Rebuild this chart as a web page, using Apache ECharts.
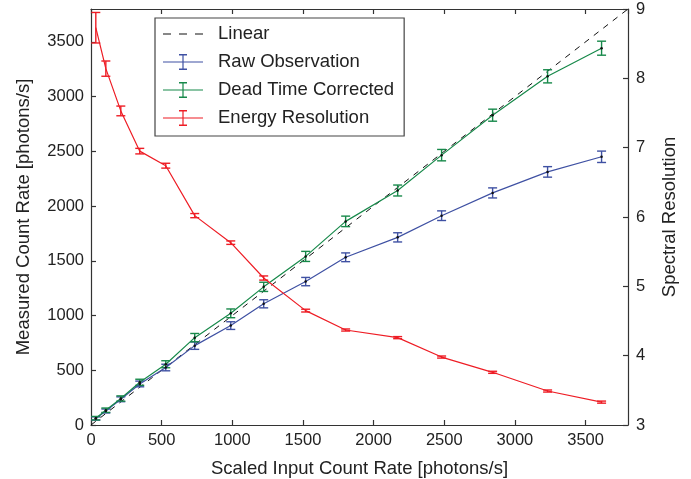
<!DOCTYPE html>
<html>
<head>
<meta charset="utf-8">
<script src="https://cdn.jsdelivr.net/npm/echarts@6/dist/echarts.min.js"></script>
<style>
html,body{margin:0;padding:0;background:#fff;}
#chart{width:691px;height:479px;}
</style>
</head>
<body>
<div id="chart"></div>
<script>
// ---- data ----
var inputRate = [34, 105, 211, 345, 529, 734, 989, 1222, 1519, 1802, 2170, 2481, 2842, 3231, 3613];
var rawObs    = [60, 128, 235, 375, 525, 725, 908, 1107, 1310, 1532, 1714, 1912, 2120, 2312, 2450];
var rawErr    = [15, 18, 22, 26, 30, 34, 35, 37, 38, 40, 42, 44, 46, 48, 52];
var deadCorr  = [62, 135, 242, 390, 555, 798, 1020, 1262, 1540, 1860, 2142, 2465, 2830, 3185, 3442];
var deadErr   = [16, 20, 24, 28, 32, 38, 40, 42, 46, 48, 50, 52, 55, 60, 64];
var energyRes = [8.73, 8.14, 7.53, 6.95, 6.74, 6.02, 5.63, 5.12, 4.65, 4.37, 4.26, 3.98, 3.76, 3.49, 3.33];
var energyErr = [0.22, 0.11, 0.07, 0.04, 0.035, 0.03, 0.025, 0.03, 0.02, 0.015, 0.015, 0.015, 0.015, 0.015, 0.015];
var linearLine = [[0, 0], [3800, 3800]];
var xTicks = {min: 0, max: 3800, interval: 500};
var yTicks = {min: 0, max: 3800, interval: 500};
var y2Ticks = {min: 3, max: 9, interval: 1};

var BLUE = '#3f51a3', GREEN = '#17894a', RED = '#ee1d25';
var FONT = 'Liberation Sans';

function pts(xs, ys) { return xs.map(function (x, i) { return [x, ys[i]]; }); }
function errData(xs, ys, es) { return xs.map(function (x, i) { return [x, ys[i] - es[i], ys[i] + es[i]]; }); }

function errRender(color) {
  return function (params, api) {
    var lo = api.coord([api.value(0), api.value(1)]);
    var hi = api.coord([api.value(0), api.value(2)]);
    var w = 4.5;
    var st = {stroke: color, lineWidth: 1.4};
    return {
      type: 'group',
      children: [
        {type: 'line', shape: {x1: lo[0], y1: lo[1], x2: hi[0], y2: hi[1]}, style: st},
        {type: 'line', shape: {x1: lo[0] - w, y1: lo[1], x2: lo[0] + w, y2: lo[1]}, style: st},
        {type: 'line', shape: {x1: hi[0] - w, y1: hi[1], x2: hi[0] + w, y2: hi[1]}, style: st}
      ]
    };
  };
}

var errIcon = 'path://M0,7.5L40,7.5L40,8.5L0,8.5Z M19.4,1L20.6,1L20.6,15L19.4,15Z M16,0L24,0L24,1.4L16,1.4Z M16,14.6L24,14.6L24,16L16,16Z';
var dashIcon = 'path://M0,7.5L8,7.5L8,8.5L0,8.5Z M16,7.5L24,7.5L24,8.5L16,8.5Z M32,7.5L40,7.5L40,8.5L32,8.5Z';

var axisLineStyle = {color: '#333', width: 1.2};
var labelStyle = {color: '#222', fontSize: 16.5, fontFamily: FONT};
var nameStyle = {color: '#222', fontSize: 18.5, fontFamily: FONT};
function plain(v) { return String(v); }

var chart = echarts.init(document.getElementById('chart'));
chart.setOption({
  backgroundColor: '#fff',
  animation: false,
  grid: {left: 91, right: 63, top: 9, bottom: 54, containLabel: false, outerBoundsMode: 'none'},
  legend: {
    left: 155, top: 18,
    orient: 'vertical',
    itemWidth: 40, itemHeight: 16, itemGap: 8,
    padding: [6, 10, 8, 8],
    borderColor: '#444', borderWidth: 1.2,
    backgroundColor: '#fff',
    textStyle: {color: '#222', fontSize: 18.5, lineHeight: 20, fontFamily: FONT, padding: [0, 0, 0, 10]},
    selectedMode: false,
    data: [
      {name: 'Linear', icon: dashIcon, itemStyle: {color: '#111'}},
      {name: 'Raw Observation', icon: errIcon, itemStyle: {color: BLUE}},
      {name: 'Dead Time Corrected', icon: errIcon, itemStyle: {color: GREEN}},
      {name: 'Energy Resolution', icon: errIcon, itemStyle: {color: RED}}
    ]
  },
  xAxis: [{
    type: 'value', position: 'bottom',
    min: xTicks.min, max: xTicks.max, interval: xTicks.interval,
    name: 'Scaled Input Count Rate [photons/s]', nameLocation: 'middle', nameGap: 34,
    nameTextStyle: nameStyle,
    axisLine: {show: true, onZero: false, lineStyle: axisLineStyle},
    axisTick: {show: true, inside: true, length: 5, lineStyle: axisLineStyle},
    axisLabel: {show: true, margin: 7, showMaxLabel: false, formatter: plain, ...labelStyle},
    splitLine: {show: false}
  }, {
    type: 'value', position: 'top',
    min: xTicks.min, max: xTicks.max, interval: xTicks.interval,
    axisLine: {show: true, onZero: false, lineStyle: axisLineStyle},
    axisTick: {show: true, inside: true, length: 5, lineStyle: axisLineStyle},
    axisLabel: {show: false},
    splitLine: {show: false}
  }],
  yAxis: [{
    type: 'value', position: 'left',
    min: yTicks.min, max: yTicks.max, interval: yTicks.interval,
    name: 'Measured Count Rate [photons/s]', nameLocation: 'middle', nameGap: 58,
    nameTextStyle: nameStyle,
    axisLine: {show: true, onZero: false, lineStyle: axisLineStyle},
    axisTick: {show: true, inside: true, length: 5, lineStyle: axisLineStyle},
    axisLabel: {show: true, margin: 7, showMaxLabel: false, formatter: plain, ...labelStyle},
    splitLine: {show: false}
  }, {
    type: 'value', position: 'right',
    min: y2Ticks.min, max: y2Ticks.max, interval: y2Ticks.interval,
    name: 'Spectral Resolution', nameLocation: 'middle', nameGap: 32,
    nameRotate: 90,
    nameTextStyle: nameStyle,
    axisLine: {show: true, onZero: false, lineStyle: axisLineStyle},
    axisTick: {show: true, inside: true, length: 5, lineStyle: axisLineStyle},
    axisLabel: {show: true, margin: 8, formatter: plain, ...labelStyle},
    splitLine: {show: false}
  }],
  series: [
    {
      name: 'Linear', type: 'line', data: linearLine, symbol: 'none',
      lineStyle: {color: '#111', width: 1, type: [6, 6]}, itemStyle: {color: '#111'}, z: 1
    },
    {
      name: 'Raw Observation', type: 'line', data: pts(inputRate, rawObs),
      symbol: 'circle', symbolSize: 2.5, itemStyle: {color: '#111'},
      lineStyle: {color: BLUE, width: 1.2}, z: 3
    },
    {
      name: 'Raw Observation', type: 'custom', data: errData(inputRate, rawObs, rawErr),
      renderItem: errRender(BLUE), encode: {x: 0, y: [1, 2]}, z: 2
    },
    {
      name: 'Dead Time Corrected', type: 'line', data: pts(inputRate, deadCorr),
      symbol: 'circle', symbolSize: 2.5, itemStyle: {color: '#111'},
      lineStyle: {color: GREEN, width: 1.2}, z: 3
    },
    {
      name: 'Dead Time Corrected', type: 'custom', data: errData(inputRate, deadCorr, deadErr),
      renderItem: errRender(GREEN), encode: {x: 0, y: [1, 2]}, z: 2
    },
    {
      name: 'Energy Resolution', type: 'line', yAxisIndex: 1, data: pts(inputRate, energyRes),
      symbol: 'none', itemStyle: {color: RED},
      lineStyle: {color: RED, width: 1.2}, z: 3
    },
    {
      name: 'Energy Resolution', type: 'custom', yAxisIndex: 1, data: errData(inputRate, energyRes, energyErr),
      renderItem: errRender(RED), encode: {x: 0, y: [1, 2]}, z: 2
    }
  ]
});
</script>
</body>
</html>
